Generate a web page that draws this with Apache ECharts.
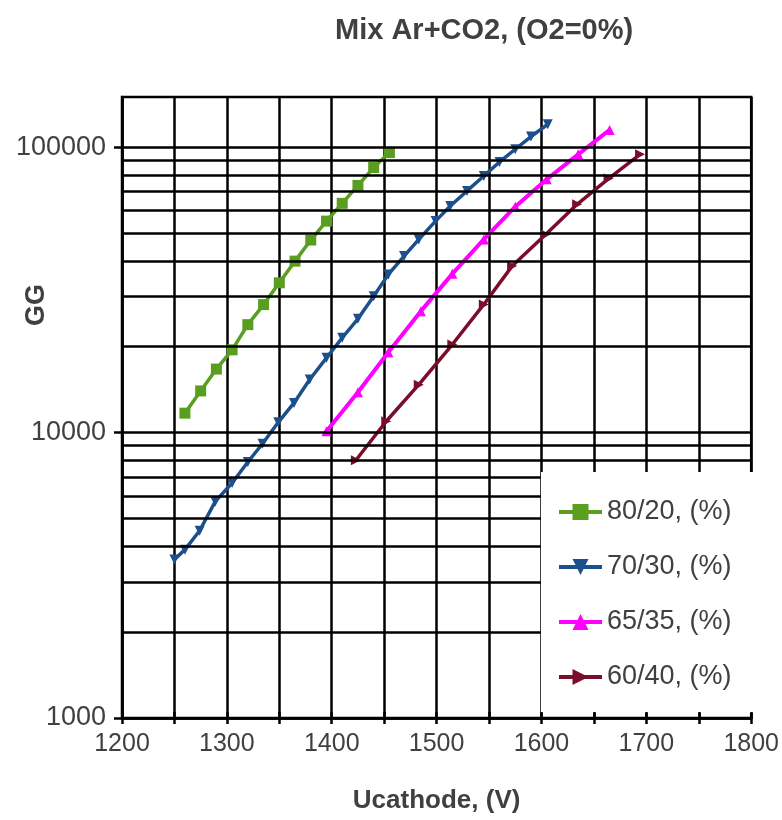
<!DOCTYPE html>
<html>
<head>
<meta charset="utf-8">
<script src="https://cdn.jsdelivr.net/npm/echarts@6/dist/echarts.min.js"></script>
<style>
	html, body { margin: 0; padding: 0; background: #fff; }
	#chart_1 { width: 782px; height: 820px; }
</style>
</head>
<body>
<div id="chart_1"></div>
<script>
// 数据
var titleText = 'Mix Ar+CO2, (O2=0%)';
var seriesNames = ['80/20, (%)', '70/30, (%)', '65/35, (%)', '60/40, (%)'];

var u8020 = [1260, 1275, 1290, 1305, 1320, 1335, 1350, 1365, 1380, 1395, 1410, 1425, 1440, 1455];
var g8020 = [11700, 14000, 16700, 19500, 23900, 28100, 33500, 39900, 47300, 55100, 63600, 73500, 84900, 95800];

var u7030 = [1250, 1260, 1274, 1289, 1305, 1320, 1334, 1349, 1364, 1379, 1395, 1410, 1425, 1440, 1454, 1469, 1483, 1499, 1513, 1529, 1545, 1560, 1575, 1590, 1606];
var g7030 = [3590, 3890, 4530, 5740, 6660, 7890, 9140, 10870, 12710, 15350, 18280, 21500, 25060, 30080, 35840, 41560, 47550, 55100, 62230, 70300, 79300, 88800, 98400, 109000, 120400];

var u6535 = [1395, 1425, 1454, 1485, 1515, 1545, 1575, 1605, 1635, 1665];
var g6535 = [10110, 13850, 19140, 26650, 36000, 47550, 61930, 77200, 94450, 115000];

var u6040 = [1423, 1452, 1483, 1515, 1545, 1572, 1604, 1634, 1664, 1694];
var g6040 = [8000, 10960, 14730, 20360, 28130, 38330, 49500, 63100, 77640, 94450];

var xLabels = [1200, 1300, 1400, 1500, 1600, 1700, 1800];
var yLabels = [1000, 10000, 100000];
var yGrid = [2000, 3000, 4000, 5000, 6000, 7000, 8000, 9000, 10000,
	20000, 30000, 40000, 50000, 60000, 70000, 80000, 90000, 100000];

function zip(xs, ys) {
	var out = [];
	for (var i = 0; i < xs.length; i++) {
		out.push([xs[i], ys[i]]);
	}
	return out;
}

var txtColor = '#404040';
var font = 'Liberation Sans, Arial, sans-serif';

var myChart = echarts.init(document.getElementById('chart_1'));

var gridLines = [];
for (var i = 0; i < yGrid.length; i++) {
	gridLines.push({ yAxis: yGrid[i] });
}

var option = {
	animation: false,
	title: {
		text: titleText,
		left: 330,
		top: 11,
		textStyle: {
			fontFamily: font,
			fontSize: 29,
			fontWeight: 'bold',
			color: txtColor
		}
	},
	grid: {
		left: 122,
		right: 29,
		top: 97,
		bottom: 102,
		show: true,
		borderColor: '#000',
		borderWidth: 2.5
	},
	legend: {
		data: seriesNames,
		orient: 'vertical',
		left: 557,
		top: 498,
		padding: 0,
		itemWidth: 43,
		itemHeight: 20,
		itemGap: 27,
		z: 20,
		lineStyle: { width: 4 },
		textStyle: {
			fontFamily: font,
			fontSize: 27,
			color: txtColor,
			lineHeight: 28
		}
	},
	graphic: [{
		type: 'rect',
		z: 8,
		shape: { x: 541, y: 472, width: 215, height: 241 },
		style: { fill: '#fff' }
	}, {
		type: 'text',
		z: 8,
		x: 37,
		y: 305,
		rotation: Math.PI / 2,
		style: {
			text: 'GG',
			fontFamily: font,
			fontSize: 27,
			fontWeight: 'bold',
			fill: txtColor,
			align: 'center',
			verticalAlign: 'middle'
		}
	}],
	xAxis: [{
		type: 'value',
		min: 1200,
		max: 1800,
		interval: 50,
		name: 'Ucathode, (V)',
		nameLocation: 'middle',
		nameGap: 70,
		nameTextStyle: {
			fontFamily: font,
			fontSize: 26,
			fontWeight: 'bold',
			color: txtColor
		},
		axisLine: { lineStyle: { color: '#000', width: 2.5 } },
		axisTick: { show: true, inside: false, length: 6, lineStyle: { color: '#000', width: 2.5 } },
		splitLine: { show: true, lineStyle: { color: '#000', width: 2.5 } },
		axisLabel: {
			margin: 14,
			fontFamily: font,
			fontSize: 25,
			color: txtColor,
			formatter: function(v) {
				return xLabels.indexOf(v) >= 0 ? String(v) : '';
			}
		}
	}, {
		// 内侧刻度（图例区域内可见）
		type: 'value',
		min: 1200,
		max: 1800,
		interval: 50,
		position: 'bottom',
		z: 30,
		axisLine: { show: true, lineStyle: { color: '#000', width: 2.5 } },
		axisTick: { show: true, inside: true, length: 6, lineStyle: { color: '#000', width: 2.5 } },
		splitLine: { show: false },
		axisLabel: { show: false }
	}],
	yAxis: {
		type: 'log',
		logBase: 10,
		min: 1000,
		max: 150000,
		splitNumber: 2,
		axisLine: { show: true, lineStyle: { color: '#000', width: 2.5 } },
		axisTick: {
			show: true,
			length: 8,
			customValues: yLabels,
			lineStyle: { color: '#000', width: 2.5 }
		},
		splitLine: { show: false },
		axisLabel: {
			margin: 16,
			fontFamily: font,
			fontSize: 27,
			color: txtColor,
			customValues: yLabels,
			formatter: function(v) {
				return String(Math.round(v));
			}
		}
	},
	series: [{
		name: 'grid',
		type: 'line',
		z: 1,
		data: [],
		silent: true,
		markLine: {
			silent: true,
			symbol: ['none', 'none'],
			label: { show: false },
			lineStyle: { color: '#000', width: 2.5, type: 'solid' },
			data: gridLines
		}
	}, {
		name: seriesNames[0],
		type: 'line',
		z: 3,
		data: zip(u8020, g8020),
		color: '#5a9e1f',
		symbol: 'rect',
		symbolSize: 11,
		lineStyle: { width: 3.5 }
	}, {
		name: seriesNames[1],
		type: 'line',
		z: 3,
		data: zip(u7030, g7030),
		color: '#1d4f8c',
		symbol: 'triangle',
		symbolRotate: 180,
		symbolSize: 10,
		lineStyle: { width: 3.5 }
	}, {
		name: seriesNames[2],
		type: 'line',
		z: 3,
		data: zip(u6535, g6535),
		color: '#ff00ff',
		symbol: 'triangle',
		symbolSize: 10,
		lineStyle: { width: 4 }
	}, {
		name: seriesNames[3],
		type: 'line',
		z: 3,
		data: zip(u6040, g6040),
		color: '#7b0c2c',
		symbol: 'triangle',
		symbolRotate: -90,
		symbolSize: 10,
		lineStyle: { width: 3.5 }
	}]
};

myChart.setOption(option);
window.addEventListener("resize", function() {
	myChart.resize();
});
</script>
</body>
</html>
